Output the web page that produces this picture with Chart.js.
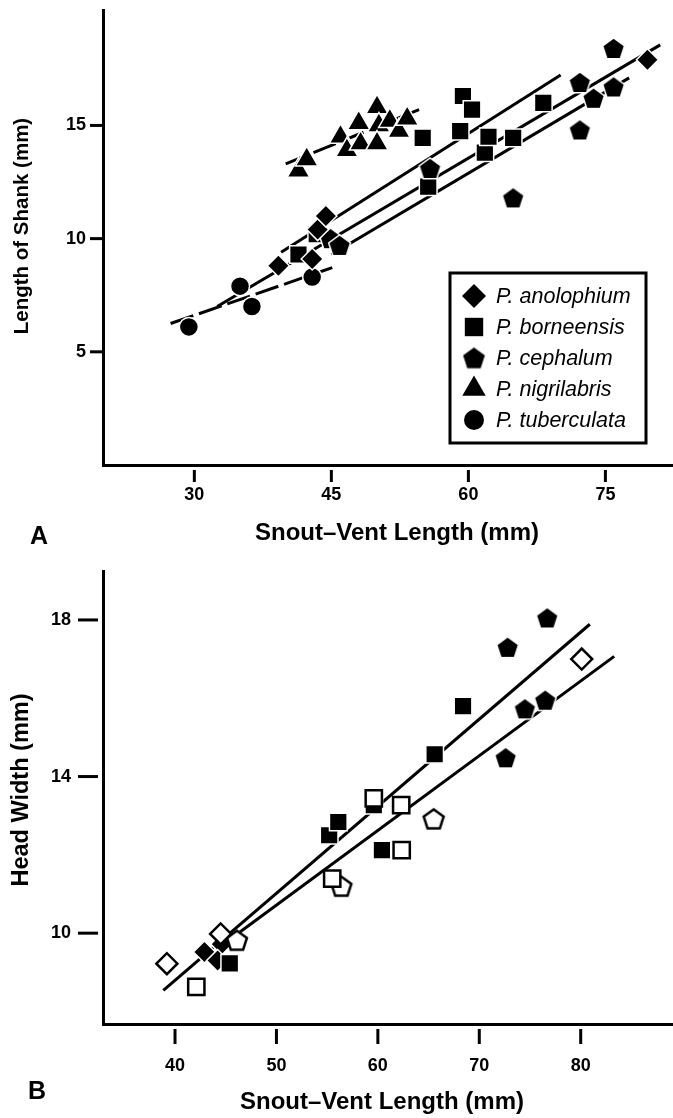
<!DOCTYPE html>
<html>
<head>
<meta charset="utf-8">
<script src="https://cdn.jsdelivr.net/npm/chart.js@4.4.0/dist/chart.umd.min.js"></script>
<style>
  html, body { margin: 0; padding: 0; background: #fff; }
  #wrap { position: relative; width: 673px; height: 1118px; }
  canvas { position: absolute; left: 0; }
  #chartA { top: 0; }
  #chartB { top: 560px; }
</style>
</head>
<body>
<div id="wrap">
  <canvas id="chartA" width="673" height="560"></canvas>
  <canvas id="chartB" width="673" height="558"></canvas>
</div>
<script>
// ---- Panel A: length of shank vs snout-vent length ----
const speciesNames = ['P. anolophium', 'P. borneensis', 'P. cephalum', 'P. nigrilabris', 'P. tuberculata'];

const anolophiumSVL   = [39.2, 42.9, 43.5, 44.4, 79.6];
const anolophiumShank = [8.8, 9.1, 10.4, 11.0, 17.9];
const borneensisSVL   = [41.4, 43.4, 55.0, 55.6, 59.1, 59.4, 60.4, 61.8, 62.2, 64.9, 68.2];
const borneensisShank = [9.3, 10.2, 14.45, 12.3, 14.75, 16.3, 15.7, 13.8, 14.5, 14.45, 16.0];
const cephalumSVL     = [44.9, 45.9, 55.8, 64.9, 72.2, 72.2, 73.7, 75.9, 75.9];
const cephalumShank   = [10.0, 9.7, 13.1, 11.8, 16.9, 14.8, 16.2, 16.7, 18.4];
const nigrilabrisSVL  = [41.4, 42.3, 46.0, 46.7, 48.0, 48.2, 50.0, 50.2, 50.0, 51.4, 52.4, 53.3];
const nigrilabrisShank= [13.0, 13.5, 14.5, 13.9, 15.1, 14.2, 15.8, 15.0, 14.2, 15.2, 14.75, 15.3];
const tuberculataSVL  = [29.4, 35.0, 36.3, 42.9];
const tuberculataShank= [6.1, 7.9, 7.0, 8.3];

// fitted lines, end points
const anolophiumFitX  = [32.5, 81.0];
const anolophiumFitY  = [7.0, 18.56];
const borneensisFitX  = [39.5, 70.1];
const borneensisFitY  = [9.4, 17.23];
const cephalumFitX    = [45.0, 77.6];
const cephalumFitY    = [9.3, 17.1];
const nigrilabrisFitX = [40.0, 54.6];
const nigrilabrisFitY = [13.3, 15.7];
const tuberculataFitX = [27.4, 45.1];
const tuberculataFitY = [6.25, 8.72];

const xTicksA = [30, 45, 60, 75];
const yTicksA = [5, 10, 15];

// ---- Panel B: head width vs snout-vent length ----
const filledDiamondSVL = [42.9, 44.6, 44.2];
const filledDiamondHW  = [9.52, 9.72, 9.3];
const openDiamondSVL   = [39.2, 44.5, 80.1];
const openDiamondHW    = [9.22, 9.98, 17.0];
const filledSquareSVL  = [45.4, 55.2, 56.1, 59.6, 60.4, 65.6, 68.4];
const filledSquareHW   = [9.23, 12.5, 12.84, 13.27, 12.12, 14.57, 15.8];
const openSquareSVL    = [42.1, 55.5, 59.6, 62.3, 62.35];
const openSquareHW     = [8.63, 11.39, 13.44, 13.27, 12.12];
const filledPentSVL    = [72.6, 72.8, 74.5, 76.5, 76.7];
const filledPentHW     = [14.48, 17.3, 15.73, 15.95, 18.05];
const openPentSVL      = [46.1, 56.4, 65.5];
const openPentHW       = [9.82, 11.2, 12.92];

const upperFitX = [38.85, 80.9];
const upperFitY = [8.54, 17.89];
const lowerFitX = [46.4, 83.3];
const lowerFitY = [10.03, 17.07];

const xTicksB = [40, 50, 60, 70, 80];
const yTicksB = [10, 14, 18];

const FONT = '"Liberation Sans", Arial, Helvetica, sans-serif';

function makePentagon(fill, stroke, lw, R) {
  const size = Math.ceil(2 * R + lw + 2);
  const c = document.createElement('canvas');
  c.width = size;
  c.height = size;
  const g = c.getContext('2d');
  const cx = size / 2, cy = size / 2 + 1;
  g.beginPath();
  for (let i = 0; i < 5; i++) {
    const a = -Math.PI / 2 + i * 2 * Math.PI / 5;
    const px = cx + R * Math.cos(a), py = cy + R * Math.sin(a);
    if (i === 0) g.moveTo(px, py); else g.lineTo(px, py);
  }
  g.closePath();
  g.fillStyle = fill;
  g.fill();
  g.lineWidth = lw;
  g.strokeStyle = stroke;
  g.lineJoin = 'miter';
  g.stroke();
  return c;
}

const pentFilled = makePentagon('#000', '#fff', 1.5, 11.5);
const pentOpen = makePentagon('#fff', '#000', 2.5, 10.5);
const pentLegend = makePentagon('#000', '#fff', 1, 12);

let pts = (xs, ys) => xs.map((x, i) => ({ x: x, y: ys[i] }));

function markers(label, xs, ys, style, radius, filled, order) {
  return {
    type: 'scatter',
    label: label,
    data: pts(xs, ys),
    pointStyle: style,
    pointRadius: radius,
    pointHoverRadius: radius,
    pointBackgroundColor: filled ? '#000' : '#fff',
    pointBorderColor: filled ? '#fff' : '#000',
    pointBorderWidth: filled ? 1.5 : 2.5,
    order: order
  };
}

function fitLine(xs, ys, dash) {
  return {
    type: 'line',
    data: pts(xs, ys),
    borderColor: '#000',
    borderWidth: 3,
    borderDash: dash,
    pointRadius: 0,
    fill: false,
    order: 20
  };
}

// tick marks drawn off the axis line (a small gap, like the print)
const tickMarks = {
  id: 'tickMarks',
  afterDraw(chart, args, o) {
    const { ctx, chartArea } = chart;
    const sx = chart.scales.x, sy = chart.scales.y;
    ctx.save();
    ctx.strokeStyle = '#000';
    ctx.lineWidth = 3;
    sx.ticks.forEach(t => {
      const px = sx.getPixelForValue(t.value);
      ctx.beginPath();
      ctx.moveTo(px, chartArea.bottom + o.xGap);
      ctx.lineTo(px, chartArea.bottom + o.xGap + o.xLen);
      ctx.stroke();
    });
    sy.ticks.forEach(t => {
      const py = sy.getPixelForValue(t.value);
      ctx.beginPath();
      ctx.moveTo(chartArea.left - o.yGap, py);
      ctx.lineTo(chartArea.left - o.yGap - o.yLen, py);
      ctx.stroke();
    });
    ctx.restore();
  }
};

const panelText = {
  id: 'panelText',
  afterDraw(chart, args, o) {
    const ctx = chart.ctx;
    ctx.save();
    ctx.fillStyle = '#000';
    ctx.textAlign = 'center';
    ctx.textBaseline = 'middle';
    ctx.font = 'bold 25px ' + FONT;
    ctx.fillText(o.letter, o.letterX, o.letterY);
    ctx.font = 'bold 24px ' + FONT;
    ctx.fillText(o.xTitle, o.xTitleX, o.xTitleY);
    ctx.translate(o.yTitleX, o.yTitleY);
    ctx.rotate(-Math.PI / 2);
    ctx.font = 'bold ' + o.yTitleSize + 'px ' + FONT;
    ctx.fillText(o.yTitle, 0, 0);
    ctx.restore();
  }
};

// boxed legend inside panel A
const boxLegend = {
  id: 'boxLegend',
  afterDraw(chart, args, o) {
    if (!o.items) return;
    const ctx = chart.ctx;
    ctx.save();
    ctx.lineWidth = 3;
    ctx.strokeStyle = '#000';
    ctx.strokeRect(o.left, o.top, o.width, o.height);
    o.items.forEach((it, i) => {
      const y = o.top + o.firstRow + i * o.rowGap;
      ctx.fillStyle = '#000';
      ctx.strokeStyle = '#000';
      Chart.helpers.drawPoint(ctx, { pointStyle: it.style, radius: it.radius, rotation: 0, borderWidth: 0 }, o.left + o.markerX, y);
      ctx.fillStyle = '#000';
      ctx.font = 'italic 21.5px ' + FONT;
      ctx.textAlign = 'left';
      ctx.textBaseline = 'middle';
      ctx.fillText(it.label, o.left + o.textX, y + 1);
    });
    ctx.restore();
  }
};

function axis(min, max, tickValues, extent, isX, padding) {
  return {
    type: 'linear',
    min: min,
    max: max,
    afterBuildTicks: s => { s.ticks = tickValues.map(v => ({ value: v })); },
    afterFit: s => {
      if (isX) s.height = extent; else s.width = extent;
      s.paddingTop = 0; s.paddingBottom = 0; s.paddingLeft = 0; s.paddingRight = 0;
    },
    grid: { display: false, drawTicks: false },
    border: { display: true, color: '#000', width: 3 },
    ticks: {
      color: '#000',
      padding: padding,
      font: { family: FONT, size: 18, weight: 'bold' }
    }
  };
}

let myChartA = new Chart(document.getElementById('chartA').getContext('2d'), {
  type: 'scatter',
  data: {
    datasets: [
      markers(speciesNames[0], anolophiumSVL, anolophiumShank, 'rectRot', 11, true, 1),
      markers(speciesNames[1], borneensisSVL, borneensisShank, 'rect', 12.5, true, 3),
      markers(speciesNames[2], cephalumSVL, cephalumShank, pentFilled, 10, true, 2),
      markers(speciesNames[3], nigrilabrisSVL, nigrilabrisShank, 'triangle', 13, true, 4),
      markers(speciesNames[4], tuberculataSVL, tuberculataShank, 'circle', 9.5, true, 5),
      fitLine(anolophiumFitX, anolophiumFitY, []),
      fitLine(borneensisFitX, borneensisFitY, []),
      fitLine(cephalumFitX, cephalumFitY, []),
      fitLine(nigrilabrisFitX, nigrilabrisFitY, [24, 6]),
      fitLine(tuberculataFitX, tuberculataFitY, [24, 6])
    ]
  },
  options: {
    responsive: false,
    animation: false,
    layout: { autoPadding: false, padding: { top: 10, right: 0, bottom: 0, left: 0 } },
    plugins: {
      legend: { display: false },
      tooltip: { enabled: false },
      tickMarks: { xGap: 5, xLen: 12, yGap: 0, yLen: 13 },
      panelText: {
        letter: 'A', letterX: 39, letterY: 537,
        xTitle: 'Snout\u2013Vent Length (mm)', xTitleX: 397, xTitleY: 533,
        yTitle: 'Length of Shank (mm)', yTitleX: 22, yTitleY: 226, yTitleSize: 20.5
      },
      boxLegend: {
        left: 450, top: 273, width: 196, height: 170,
        firstRow: 23, rowGap: 31, markerX: 24, textX: 46,
        items: [
          { label: speciesNames[0], style: 'rectRot', radius: 12 },
          { label: speciesNames[1], style: 'rect', radius: 13 },
          { label: speciesNames[2], style: pentLegend, radius: 11 },
          { label: speciesNames[3], style: 'triangle', radius: 13.5 },
          { label: speciesNames[4], style: 'circle', radius: 10 }
        ]
      }
    },
    scales: {
      x: axis(20, 82.4, xTicksA, 95, true, 19),
      y: axis(0, 20.1, yTicksA, 103, false, 17)
    }
  },
  plugins: [tickMarks, panelText, boxLegend]
});

let myChartB = new Chart(document.getElementById('chartB').getContext('2d'), {
  type: 'scatter',
  data: {
    datasets: [
      markers('open square', openSquareSVL, openSquareHW, 'rect', 11.5, false, 1),
      markers('open diamond', openDiamondSVL, openDiamondHW, 'rectRot', 10.5, false, 2),
      markers('open pentagon', openPentSVL, openPentHW, pentOpen, 10, false, 3),
      markers('filled square', filledSquareSVL, filledSquareHW, 'rect', 12.5, true, 4),
      markers('filled diamond', filledDiamondSVL, filledDiamondHW, 'rectRot', 11, true, 5),
      markers('filled pentagon', filledPentSVL, filledPentHW, pentFilled, 10, true, 6),
      fitLine(upperFitX, upperFitY, []),
      fitLine(lowerFitX, lowerFitY, [])
    ]
  },
  options: {
    responsive: false,
    animation: false,
    layout: { autoPadding: false, padding: { top: 11, right: 0, bottom: 0, left: 0 } },
    plugins: {
      legend: { display: false },
      tooltip: { enabled: false },
      tickMarks: { xGap: 5, xLen: 15, yGap: 5, yLen: 20 },
      panelText: {
        letter: 'B', letterX: 37, letterY: 532,
        xTitle: 'Snout\u2013Vent Length (mm)', xTitleX: 382, xTitleY: 542,
        yTitle: 'Head Width (mm)', yTitleX: 22, yTitleY: 230, yTitleSize: 23.5
      },
      boxLegend: {}
    },
    scales: {
      x: axis(32.9, 89.1, xTicksB, 94, true, 31),
      y: axis(7.68, 19.25, yTicksB, 103, false, 32)
    }
  },
  plugins: [tickMarks, panelText, boxLegend]
});
</script>
</body>
</html>
